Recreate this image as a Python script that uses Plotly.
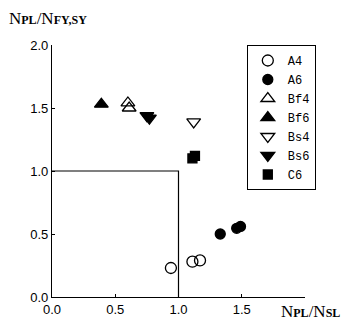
import plotly.graph_objects as go

series_names = ["A4", "A6", "Bf4", "Bf6", "Bs4", "Bs6", "C6"]
a4_x = [0.94, 1.11, 1.17]
a4_y = [0.23, 0.28, 0.29]
a6_x = [1.33, 1.46, 1.49]
a6_y = [0.50, 0.545, 0.56]
bf4_x = [0.60, 0.61]
bf4_y = [1.54, 1.50]
bf6_x = [0.39]
bf6_y = [1.53]
bs4_x = [1.12]
bs4_y = [1.39]
bs6_x = [0.75, 0.77]
bs6_y = [1.44, 1.42]
c6_x = [1.11, 1.13]
c6_y = [1.10, 1.12]
x_ticks = [0.0, 0.5, 1.0, 1.5]
y_ticks = [0.0, 0.5, 1.0, 1.5, 2.0]
box_x = [0.0, 1.0, 1.0]
box_y = [1.0, 1.0, 0.0]

xs = [a4_x, a6_x, bf4_x, bf6_x, bs4_x, bs6_x, c6_x]
ys = [a4_y, a6_y, bf4_y, bf6_y, bs4_y, bs6_y, c6_y]
symbols = ["circle-open", "circle", "triangle-up-open", "triangle-up",
           "triangle-down-open", "triangle-down", "square"]
sizes = [11, 10, 12, 12, 12, 12, 9]

fig = go.Figure()
fig.add_trace(go.Scatter(x=box_x, y=box_y, mode="lines",
                         line=dict(color="black", width=1.2),
                         showlegend=False, hoverinfo="skip"))
for name, x, y, sym, sz in zip(series_names, xs, ys, symbols, sizes):
    fig.add_trace(go.Scatter(
        x=x, y=y, mode="markers", name=name,
        marker=dict(symbol=sym, size=sz, color="black",
                    line=dict(color="black", width=1.3)),
    ))

tick_font = dict(family="Liberation Sans Narrow, Arial Narrow, Liberation Sans", size=13, color="black")
fig.update_xaxes(range=[0, 2.0], tickvals=x_ticks, ticktext=["%.1f" % v for v in x_ticks],
                 showline=True, linecolor="black", linewidth=1.2, mirror=False,
                 ticks="inside", ticklen=3, tickcolor="black", showgrid=False,
                 zeroline=False, tickfont=tick_font)
fig.update_yaxes(range=[0, 2.0], tickvals=y_ticks, ticktext=["%.1f" % v for v in y_ticks],
                 showline=True, linecolor="black", linewidth=1.2, mirror=False,
                 ticks="inside", ticklen=3, tickcolor="black", showgrid=False,
                 zeroline=False, tickfont=tick_font)

sub = "<span style='font-size:12px'><b>%s</b></span>"
slash = "/"
title_font = dict(family="Liberation Serif, DejaVu Serif", size=17, color="black")
fig.add_annotation(xref="paper", yref="paper", x=-0.178, y=1.0, yshift=27,
                   xanchor="left", yanchor="middle", showarrow=False,
                   text="N" + sub % "PL" + slash + "N" + sub % "FY,SY",
                   font=title_font)
fig.add_annotation(xref="paper", yref="paper", x=1.145, y=0.0, yshift=-14,
                   xanchor="right", yanchor="middle", showarrow=False,
                   text="N" + sub % "PL" + slash + "N" + sub % "SL",
                   font=title_font)

fig.update_layout(
    width=341, height=320,
    margin=dict(l=44, r=44, t=37, b=31),
    paper_bgcolor="white", plot_bgcolor="white",
    legend=dict(x=0.77, y=1.0, xanchor="left", yanchor="top",
                bordercolor="black", borderwidth=1, bgcolor="white",
                font=dict(family="Liberation Mono, Courier New, monospace", size=12, color="black"),
                tracegroupgap=0, itemwidth=30),
)
fig.write_html("out.html")
